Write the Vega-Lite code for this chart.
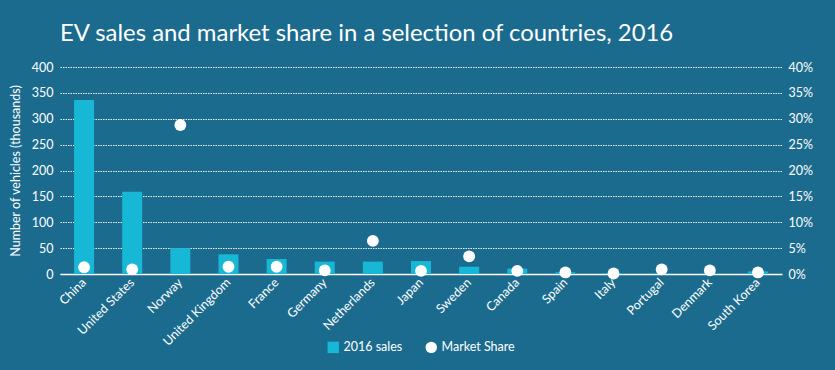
{
  "$schema": "https://vega.github.io/schema/vega-lite/v6.json",
  "width": 722,
  "height": 207,
  "autosize": {"type": "none"},
  "padding": {"left": 60, "top": 67, "right": 53, "bottom": 96},
  "background": "#1b6b8f",
  "config": {
    "font": "Lato",
    "view": {"stroke": null},
    "axis": {"labelColor": "white", "titleColor": "white", "labelFont": "Lato", "titleFont": "Lato"},
    "legend": {"labelColor": "white", "labelFont": "Lato"}
  },
  "title": {
    "text": "EV sales and market share in a selection of countries, 2016",
    "anchor": "start",
    "frame": "group",
    "dx": 0,
    "offset": 15,
    "fontSize": 23.9,
    "fontWeight": "normal",
    "color": "white",
    "font": "Lato"
  },
  "data": {
    "values": [
      {"country": "China", "sales": 336, "share": 0.013},
      {"country": "United States", "sales": 159, "share": 0.009},
      {"country": "Norway", "sales": 50, "share": 0.288},
      {"country": "United Kingdom", "sales": 38, "share": 0.014},
      {"country": "France", "sales": 29, "share": 0.014},
      {"country": "Germany", "sales": 24, "share": 0.007},
      {"country": "Netherlands", "sales": 24, "share": 0.064},
      {"country": "Japan", "sales": 25, "share": 0.006},
      {"country": "Sweden", "sales": 14, "share": 0.034},
      {"country": "Canada", "sales": 10.5, "share": 0.006},
      {"country": "Spain", "sales": 3.2, "share": 0.003},
      {"country": "Italy", "sales": 1.4, "share": 0.001},
      {"country": "Portugal", "sales": 1, "share": 0.009},
      {"country": "Denmark", "sales": 0.8, "share": 0.007},
      {"country": "South Korea", "sales": 5, "share": 0.003}
    ]
  },
  "encoding": {
    "x": {
      "field": "country",
      "type": "nominal",
      "sort": null,
      "title": null,
      "axis": {
        "labelAngle": -45,
        "labelAlign": "right",
        "labelBaseline": "middle",
        "labelFontSize": 12.5,
        "labelPadding": 6,
        "ticks": false,
        "domain": true,
        "domainColor": "white",
        "domainWidth": 1.5,
        "grid": false
      }
    }
  },
  "layer": [
    {
      "mark": {"type": "bar", "size": 20},
      "encoding": {
        "y": {
          "field": "sales",
          "type": "quantitative",
          "scale": {"domain": [0, 400]},
          "title": "Number of vehicles (thousands)",
          "axis": {
            "values": [0, 50, 100, 150, 200, 250, 300, 350, 400],
            "labelFontSize": 12.5,
            "labelPadding": 7,
            "ticks": false,
            "domain": false,
            "grid": true,
            "gridColor": "white",
            "gridDash": [1.5, 1],
            "gridOpacity": 0.9,
            "titleFontSize": 12.5,
            "titleFontWeight": "normal",
            "titlePadding": 9
          }
        },
        "color": {
          "datum": "2016 sales",
          "type": "nominal",
          "scale": {"domain": ["2016 sales", "Market Share"], "range": ["#17b8d5", "#ffffff"]},
          "legend": {
            "title": null,
            "orient": "none",
            "legendX": 267,
            "legendY": 274,
            "direction": "horizontal",
            "labelFontSize": 12.5,
            "symbolSize": 130,
            "symbolOpacity": 1,
            "columnPadding": 22,
            "symbolStrokeWidth": 0,
            "encode": {
              "symbols": {
                "update": {
                  "shape": {"signal": "datum.value === '2016 sales' ? 'square' : 'circle'"},
                  "fillOpacity": {"value": 1}
                }
              }
            }
          }
        }
      }
    },
    {
      "mark": {"type": "point", "filled": true, "size": 140, "opacity": 1},
      "encoding": {
        "y": {
          "field": "share",
          "type": "quantitative",
          "scale": {"domain": [0, 0.4]},
          "title": null,
          "axis": {
            "orient": "right",
            "format": ".0%",
            "values": [0, 0.05, 0.1, 0.15, 0.2, 0.25, 0.3, 0.35, 0.4],
            "labelFontSize": 12.5,
            "labelPadding": 6,
            "ticks": false,
            "domain": false,
            "grid": false
          }
        },
        "color": {"datum": "Market Share", "type": "nominal"}
      }
    }
  ],
  "resolve": {"scale": {"y": "independent"}}
}
